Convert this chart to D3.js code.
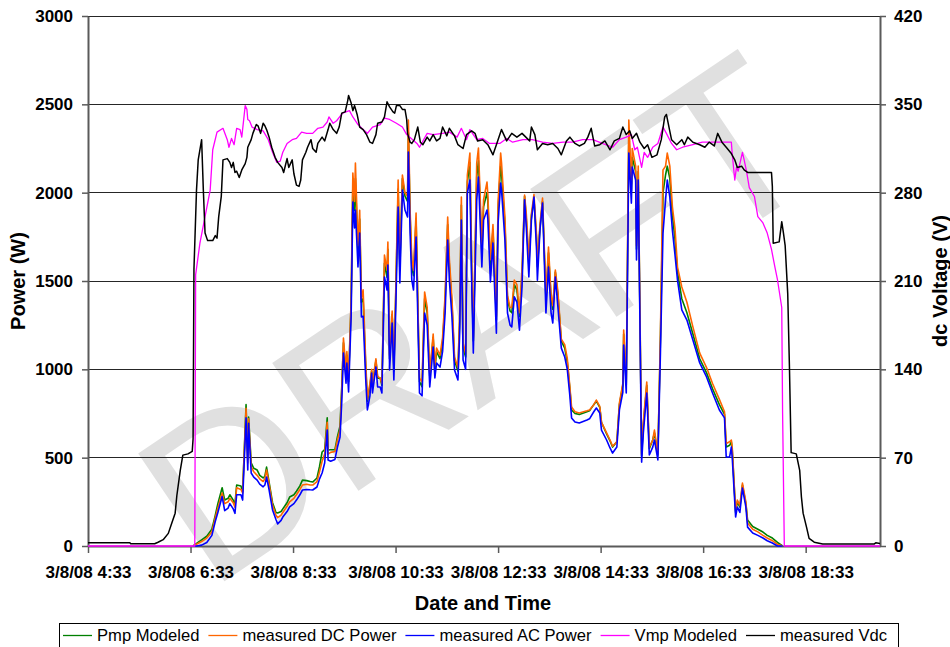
<!DOCTYPE html>
<html><head><meta charset="utf-8">
<script src="https://cdn.jsdelivr.net/npm/d3@7"></script>
<style>body{margin:0;background:#fff} svg{display:block}</style>
</head><body>
<svg id="chart" width="950" height="647"></svg>
<script>
// ---------- DATA ----------
const powerTimes = ["6:36","6:40","6:46","6:52","6:58","7:02","7:05","7:10","7:13","7:17","7:19","7:23","7:25","7:27","7:32","7:34","7:38","7:40","7:41","7:44","7:47","7:51","7:54","7:58","8:00","8:02","8:05","8:09","8:13","8:15","8:19","8:21","8:26","8:29","8:34","8:37","8:41","8:44","8:49","8:53","8:56","9:01","9:04","9:07","9:10","9:13","9:14","9:17","9:22","9:25","9:28","9:30","9:32","9:35","9:36","9:38","9:41","9:43","9:45","9:46","9:49","9:51","9:53","9:55","9:58","10:00","10:03","10:05","10:06","10:10","10:12","10:15","10:17","10:20","10:23","10:24","10:26","10:29","10:31","10:33","10:36","10:38","10:41","10:44","10:47","10:48","10:50","10:52","10:54","10:57","10:59","11:01","11:04","11:07","11:10","11:13","11:17","11:19","11:21","11:25","11:28","11:31","11:34","11:36","11:39","11:42","11:46","11:48","11:50","11:52","11:55","11:57","12:00","12:02","12:04","12:08","12:10","12:14","12:16","12:20","12:21","12:24","12:27","12:29","12:31","12:33","12:36","12:37","12:41","12:44","12:47","12:49","12:52","12:55","12:58","13:01","13:04","13:06","13:09","13:12","13:15","13:18","13:19","13:22","13:25","13:29","13:32","13:35","13:37","13:40","13:43","13:47","13:51","13:54","13:57","13:59","14:03","14:08","14:17","14:20","14:25","14:28","14:32","14:34","14:40","14:44","14:47","14:52","14:55","14:59","15:00","15:03","15:06","15:09","15:10","15:14","15:15","15:17","15:21","15:23","15:27","15:30","15:34","15:36","15:40","15:43","15:46","15:49","15:51","15:54","15:57","16:00","16:03","16:08","16:14","16:21","16:29","16:37","16:44","16:52","16:58","17:00","17:04","17:06","17:07","17:11","17:13","17:16","17:19","17:23","17:25","17:31","17:37","17:43","17:48","17:54","18:00","18:06"];

const acPower = [0,0,5,20,60,140,190,280,200,215,240,210,185,290,290,260,725,430,695,413,390,373,350,335,345,390,317,204,150,125,145,164,195,221,240,260,290,317,320,318,317,334,380,413,470,656,487,480,490,560,617,815,1092,922,1036,872,1300,1947,1800,1902,1579,1771,1296,1300,950,770,850,979,866,1013,900,900,866,1523,1449,1590,996,1262,940,1300,1919,1489,2015,1902,1862,2230,1771,1505,1449,1749,1300,866,850,1319,1250,900,1126,951,1036,1013,1100,1319,1732,1500,1296,996,940,1200,1845,1053,1000,1998,2072,1500,1092,1959,2089,1579,1845,1902,1850,1494,1715,1450,1205,1828,2055,2015,1732,1319,1250,1240,1410,1380,1222,1466,1959,1805,1523,1845,1975,1675,1505,1788,1941,1319,1579,1320,1262,1523,1353,1120,1070,1000,850,725,702,696,713,720,760,781,753,656,600,555,526,560,770,870,1138,866,2224,1941,2145,2072,1619,2072,475,640,866,515,560,600,487,1092,1771,1959,2072,1975,1788,1650,1505,1336,1279,1166,1036,957,866,770,725,504,504,560,504,164,221,190,328,221,107,74,60,45,30,17,0,0];

const dcPower = [0,10,25,45,80,160,215,300,240,250,270,245,220,330,320,300,780,470,720,450,420,400,380,365,380,430,350,230,175,160,175,190,225,250,270,290,320,345,350,345,345,365,420,480,520,700,520,530,535,600,660,880,1177,990,1100,950,1400,2111,1950,2168,1700,1900,1400,1450,1050,830,920,1000,920,1060,960,950,920,1647,1560,1720,1080,1330,1010,1400,2072,1600,2100,2000,1980,2411,1900,1620,1560,1885,1400,950,930,1438,1350,980,1200,1020,1120,1080,1180,1420,1862,1620,1400,1070,1010,1300,1975,1150,1090,2100,2224,1620,1180,2168,2253,1700,1960,2060,1990,1620,1820,1560,1300,1950,2224,2170,1860,1420,1350,1350,1505,1480,1320,1560,1987,1880,1620,1880,1990,1760,1600,1820,1970,1420,1692,1420,1360,1562,1440,1170,1140,1060,900,787,760,753,765,770,800,826,790,700,640,600,565,590,810,920,1222,920,2411,2050,2250,2150,1700,2150,520,700,928,560,600,656,520,1200,2128,2150,2224,2150,1920,1800,1579,1466,1380,1240,1092,1010,920,830,760,580,590,600,560,200,260,230,356,250,130,95,80,60,45,30,10,0];

const pmpModeled = [0,15,35,55,95,175,240,330,260,270,290,260,235,345,340,310,800,490,730,470,440,430,400,385,395,447,360,245,190,187,195,210,245,277,290,310,340,373,370,365,362,385,450,532,545,725,543,545,545,620,680,900,1150,980,1080,930,1380,2050,1900,2080,1650,1850,1380,1400,1020,820,900,990,910,1050,950,950,910,1600,1520,1680,1060,1310,990,1380,2020,1560,2080,1980,1950,2340,1870,1580,1530,1850,1380,930,900,1400,1320,960,1180,1000,1100,1060,1150,1390,1820,1580,1370,1050,990,1270,1930,1120,1070,2060,2170,1580,1160,2090,2180,1670,1920,2000,1950,1580,1790,1530,1280,1910,2150,2110,1820,1400,1330,1320,1480,1450,1300,1530,1980,1850,1590,1870,1960,1740,1580,1800,1950,1400,1660,1400,1340,1550,1420,1160,1120,1040,890,770,750,745,760,765,800,820,785,700,635,595,560,590,800,910,1200,910,2330,2010,2200,2120,1680,2120,510,690,910,550,600,640,515,1170,2000,2100,2150,2080,1870,1740,1550,1400,1320,1200,1060,980,890,800,745,560,570,590,550,190,250,220,345,240,147,110,95,79,60,45,20,0];

const vmpTimes = ["4:33","6:38","6:39","6:44","6:50","6:56","6:59","7:04","7:11","7:16","7:18","7:21","7:24","7:27","7:31","7:33","7:37","7:39","7:40","7:42","7:45","7:51","7:58","8:04","8:09","8:14","8:18","8:21","8:26","8:32","8:37","8:43","8:49","8:56","9:02","9:08","9:13","9:15","9:20","9:24","9:31","9:39","9:43","9:49","9:55","10:00","10:06","10:15","10:20","10:26","10:34","10:41","10:46","10:53","10:58","11:01","11:10","11:17","11:28","11:36","11:45","11:50","11:56","12:00","12:08","12:15","12:23","12:35","12:43","12:50","13:02","13:13","13:25","13:37","13:49","14:00","14:12","14:24","14:35","14:47","14:55","15:03","15:09","15:13","15:16","15:21","15:24","15:28","15:34","15:40","15:46","15:50","15:56","16:02","16:09","16:21","16:32","16:44","16:56","17:06","17:07","17:10","17:12","17:14","17:19","17:21","17:24","17:27","17:33","17:37","17:43","17:48","17:53","17:57","18:00","18:05","18:06","18:08","20:00"];
const vmpModeled = [0,0,215,240,261,282,314,328,331,322,316,323,318,331,330,324,349,346,338,337,332,330,329,322,312,304,305,312,319,322,323,328,327,327,331,332,336,340,335,337,343,345,340,334,330,327,332,334,339,338,335,332,326,322,319,316,327,326,327,328,324,331,322,330,322,323,319,319,323,320,322,322,320,319,320,320,322,322,319,316,322,324,326,314,316,300,312,308,316,319,332,327,319,314,316,318,320,320,320,320,311,290,300,297,312,306,296,284,277,261,256,248,235,221,211,189,105,0,0];

const vdcTimes = ["4:33","5:22","5:23","5:51","5:55","6:01","6:07","6:11","6:15","6:17","6:21","6:24","6:30","6:35","6:36","6:37","6:40","6:42","6:46","6:48","6:50","6:53","6:59","7:02","7:04","7:06","7:09","7:11","7:16","7:19","7:21","7:23","7:25","7:27","7:30","7:33","7:37","7:39","7:40","7:44","7:46","7:50","7:52","7:55","7:58","8:00","8:02","8:05","8:08","8:12","8:15","8:20","8:22","8:26","8:28","8:32","8:34","8:37","8:40","8:42","8:44","8:48","8:50","8:54","8:56","9:00","9:02","9:07","9:10","9:14","9:16","9:20","9:24","9:27","9:30","9:34","9:37","9:38","9:41","9:43","9:45","9:48","9:51","9:55","9:59","10:03","10:06","10:10","10:12","10:17","10:20","10:23","10:26","10:30","10:32","10:34","10:38","10:41","10:44","10:46","10:47","10:50","10:52","10:55","10:59","11:02","11:05","11:10","11:13","11:17","11:21","11:25","11:28","11:33","11:36","11:42","11:46","11:52","11:56","12:02","12:06","12:09","12:15","12:21","12:27","12:31","12:37","12:43","12:49","12:55","13:01","13:04","13:10","13:12","13:16","13:19","13:25","13:31","13:37","13:43","13:47","13:53","13:57","14:03","14:08","14:14","14:18","14:22","14:26","14:32","14:38","14:44","14:49","14:55","14:59","15:03","15:07","15:10","15:15","15:19","15:24","15:28","15:33","15:39","15:44","15:48","15:50","15:53","15:56","16:02","16:08","16:11","16:15","16:21","16:29","16:35","16:40","16:46","16:50","16:55","17:00","17:06","17:10","17:13","17:18","17:21","17:25","17:53","17:54","17:55","18:02","18:05","18:07","18:09","18:12","18:14","18:16","18:22","18:26","18:28","18:30","18:34","18:37","18:43","18:53","19:53","19:55","20:00"];
const vdcMeasured = [2.6,2.6,1.8,1.8,3,5,10,18,26,40,60,72,73,75,85,219,282,306,322,282,248,242,242,246,244,261,277,306,307,304,300,304,296,297,292,298,303,308,316,322,327,334,333,327,335,333,330,324,316,308,304,300,296,307,300,306,295,286,285,290,306,312,316,322,315,312,319,324,321,330,335,330,327,332,343,344,353,357,351,345,349,342,332,330,326,320,319,326,335,336,340,352,348,344,343,349,349,346,346,338,327,320,319,322,332,320,318,324,321,326,321,323,332,325,331,325,318,315,326,329,327,321,322,318,310,318,330,321,327,324,327,325,321,332,326,314,319,318,319,315,310,321,324,319,317,319,324,331,317,318,321,314,321,323,332,326,329,323,327,320,315,318,308,310,322,340,342,332,322,318,322,318,324,320,318,316,320,317,327,320,316,311,306,300,301,298,296,296,285,240,241,257,248,238,200,142,74,73,60,39,26,15,6,3,1.5,1.5,2.5,2];

const xTickLabels = ["3/8/08 4:33","3/8/08 6:33","3/8/08 8:33","3/8/08 10:33","3/8/08 12:33","3/8/08 14:33","3/8/08 16:33","3/8/08 18:33"];
const powerTicks = [0,500,1000,1500,2000,2500,3000];
const voltTicks = [0,70,140,210,280,350,420];
const seriesNames = ["Pmp Modeled","measured DC Power","measured AC Power","Vmp Modeled","measured Vdc"];
const seriesColors = ["#008000","#ff6600","#0000ff","#ff00ff","#000000"];
const watermarkText = "DRAFT";

// ---------- CHART ----------
const svg = d3.select("#chart");
const parseT = d3.timeParse("%Y-%m-%d %H:%M");
const T = s => parseT("2008-03-08 " + s);
const L = 88, R = 880, TOP = 16, BOT = 546;

const x = d3.scaleTime().domain([T("4:33"), T("20:00")]).range([L, R]);
const yP = d3.scaleLinear().domain([0, 3000]).range([BOT, TOP]);
const yV = d3.scaleLinear().domain([0, 420]).range([BOT, TOP]);

// watermark (kept inside the picture)
svg.append("text")
  .attr("transform", "translate(475,318) rotate(-34)")
  .attr("text-anchor", "middle").attr("dominant-baseline", "central")
  .attr("font-family", "Liberation Sans, Arial, sans-serif")
  .attr("font-size", 224).attr("fill", "#e0e0e0")
  .text(watermarkText);

// gridlines
svg.append("g").selectAll("line").data(powerTicks).join("line")
  .attr("x1", L).attr("x2", R)
  .attr("y1", d => yP(d)).attr("y2", d => yP(d))
  .attr("stroke", "#262626").attr("stroke-width", 1).attr("shape-rendering", "crispEdges");

const tickFont = g => g.selectAll("text")
  .attr("font-family", "Liberation Sans, Arial, sans-serif")
  .attr("font-weight", "bold").attr("font-size", 17).attr("fill", "#000");
const axisStyle = g => { g.select(".domain").attr("stroke", "#5a5a5a").attr("stroke-width", 2);
  g.selectAll(".tick line").attr("stroke", "#5a5a5a").attr("stroke-width", 1.5); };

const tickDates = xTickLabels.map(d3.timeParse("%m/%d/%y %H:%M"));
const fmt = d3.timeFormat("%-m/%-d/%y %-H:%M");
svg.append("g").attr("transform", `translate(0,${BOT})`)
  .call(d3.axisBottom(x).tickValues(tickDates).tickFormat(fmt).tickSize(7).tickSizeOuter(0).tickPadding(13))
  .call(axisStyle).call(tickFont);

svg.append("g").attr("transform", `translate(${L},0)`)
  .call(d3.axisLeft(yP).tickValues(powerTicks).tickFormat(d3.format("d")).tickSize(6).tickSizeOuter(0).tickPadding(9))
  .call(axisStyle).call(tickFont);

svg.append("g").attr("transform", `translate(${R},0)`)
  .call(d3.axisRight(yV).tickValues(voltTicks).tickFormat(d3.format("d")).tickSize(6).tickSizeOuter(0).tickPadding(8))
  .call(axisStyle).call(tickFont);

// series
svg.append("defs").append("clipPath").attr("id", "plot")
  .append("rect").attr("x", L).attr("y", TOP - 2).attr("width", R - L).attr("height", BOT - TOP + 3);
const plot = svg.append("g").attr("clip-path", "url(#plot)");

const drawLine = (times, vals, yScale, color, w) => {
  const pts = times.map((t, i) => [x(T(t)), yScale(vals[i])]);
  plot.append("path").datum(pts)
    .attr("d", d3.line())
    .attr("fill", "none").attr("stroke", color).attr("stroke-width", w)
    .attr("stroke-linejoin", "round");
};
drawLine(powerTimes, pmpModeled, yP, seriesColors[0], 1.6);
drawLine(powerTimes, dcPower, yP, seriesColors[1], 1.6);
drawLine(powerTimes, acPower, yP, seriesColors[2], 1.6);
drawLine(vmpTimes, vmpModeled, yV, seriesColors[3], 1.3);
drawLine(vdcTimes, vdcMeasured, yV, seriesColors[4], 1.5);

// axis titles
const titleFont = s => s.attr("font-family", "Liberation Sans, Arial, sans-serif")
  .attr("font-weight", "bold").attr("font-size", 20).attr("fill", "#000");
svg.append("text").attr("x", 483).attr("y", 610).attr("text-anchor", "middle").call(titleFont).text("Date and Time");
svg.append("text").attr("transform", `translate(25,${(TOP + BOT) / 2}) rotate(-90)`).attr("text-anchor", "middle").call(titleFont).text("Power (W)");
svg.append("text").attr("transform", `translate(947,${(TOP + BOT) / 2}) rotate(-90)`).attr("text-anchor", "middle").call(titleFont).text("dc Voltage (V)");

// legend
const lg = svg.append("g");
lg.append("rect").attr("x", 59.5).attr("y", 623.5).attr("width", 839).attr("height", 40)
  .attr("fill", "#fff").attr("stroke", "#000").attr("stroke-width", 1);
let cx = 63;
seriesNames.forEach((name, i) => {
  lg.append("line").attr("x1", cx).attr("x2", cx + 29).attr("y1", 635.5).attr("y2", 635.5)
    .attr("stroke", seriesColors[i]).attr("stroke-width", 1.3);
  const tx = lg.append("text").attr("x", cx + 34).attr("y", 641)
    .attr("font-family", "Liberation Sans, Arial, sans-serif").attr("font-size", 16.6).attr("fill", "#000")
    .text(name);
  cx = cx + 34 + tx.node().getComputedTextLength() + 9;
});
</script>
</body></html>
